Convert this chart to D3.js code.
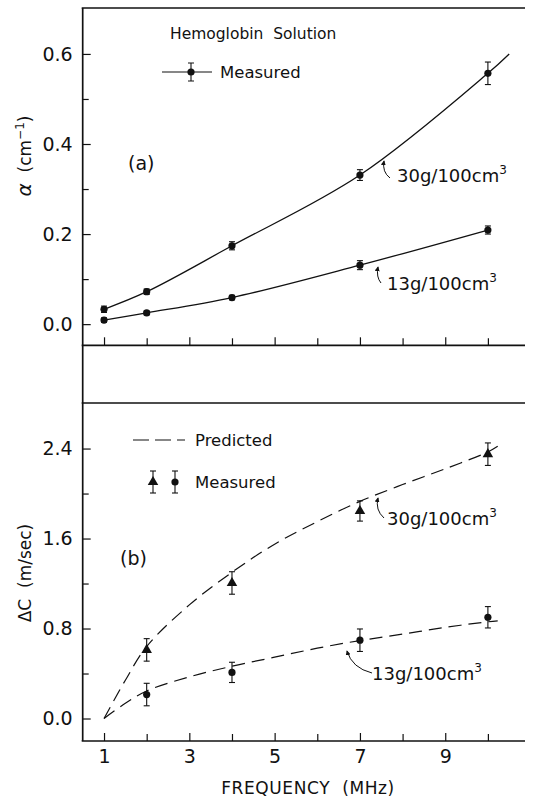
<!DOCTYPE html>
<html>
<head>
<meta charset="utf-8">
<script src="https://cdn.jsdelivr.net/npm/d3@7"></script>
<style>
  body { margin: 0; background: #fff; }
  text { font-family: "DejaVu Sans", sans-serif; fill: #111; white-space: pre; }
</style>
</head>
<body>
<div id="chart"></div>
<script>
// Hemoglobin solution: attenuation (a) and velocity change (b) vs frequency
const width = 549, height = 802;

// (a) attenuation, cm^-1
const freqA = [1, 2, 4, 7, 10];
const alpha30 = [0.033, 0.072, 0.174, 0.331, 0.557];
const alpha30Err = [0.007, 0.006, 0.009, 0.012, 0.025];
const alpha13 = [0.009, 0.025, 0.059, 0.131, 0.209];
const alpha13Err = [0.005, 0.004, 0.005, 0.010, 0.009];
// smooth curves drawn through the points
const curveFreq30 = [1, 2, 4, 7, 10, 10.5];
const curveAlpha30 = [0.033, 0.072, 0.174, 0.331, 0.557, 0.600];
const curveFreq13 = [1, 2, 4, 7, 10];
const curveAlpha13 = [0.009, 0.025, 0.059, 0.131, 0.209];

// (b) velocity change, m/sec
const freqB = [2, 4, 7, 10];
const dc30 = [0.61, 1.205, 1.845, 2.35];
const dc30Err = [0.10, 0.10, 0.09, 0.10];
const dc13 = [0.213, 0.41, 0.696, 0.90];
const dc13Err = [0.10, 0.09, 0.10, 0.095];
// predicted (dashed)
const predFreq = [1, 1.5, 2, 3, 4, 5, 6, 7, 8, 9, 10, 10.23];
const pred30 = [0, 0.34, 0.64, 1.01, 1.30, 1.55, 1.75, 1.93, 2.08, 2.22, 2.37, 2.42];
const pred13 = [0, 0.135, 0.245, 0.37, 0.465, 0.545, 0.625, 0.693, 0.75, 0.81, 0.86, 0.868];

// ticks
const xMajor = [1, 3, 5, 7, 9];
const xMinor = [2, 4, 6, 8, 10];
const yAMajor = [0, 0.2, 0.4, 0.6];
const yAMinor = [0.1, 0.3, 0.5];
const yBMajor = [0, 0.8, 1.6, 2.4];
const yBMinor = [0.4, 1.2, 2.0];

const left = 82.7, right = 525;
const topA = 8, bottomA = 345.3, topB = 403, bottomB = 741;

const svg = d3.select("#chart").append("svg")
  .attr("width", width).attr("height", height);

const x = d3.scaleLinear().domain([0.5, 10.87]).range([left, right]);
const yA = d3.scaleLinear().domain([-0.047, 0.702]).range([bottomA, topA]);
const yB = d3.scaleLinear().domain([-0.2, 2.805]).range([bottomB, topB]);

const ink = "#111";

// arrow head
svg.append("defs").append("marker").attr("id", "arr")
  .attr("viewBox", "0 0 6 6").attr("refX", 5).attr("refY", 3)
  .attr("markerWidth", 5).attr("markerHeight", 5).attr("orient", "auto")
  .append("path").attr("d", "M0,0 L6,3 L0,6 Z").attr("fill", ink);

// ---- axes ----
function leftAxis(scale, major, minor, fmt) {
  const gMaj = svg.append("g").attr("transform", `translate(${left},0)`)
    .call(d3.axisLeft(scale).tickValues(major).tickFormat(d3.format(fmt))
      .tickSize(-8).tickPadding(10).tickSizeOuter(0));
  const gMin = svg.append("g").attr("transform", `translate(${left},0)`)
    .call(d3.axisLeft(scale).tickValues(minor).tickFormat("").tickSize(-6).tickSizeOuter(0));
  [gMaj, gMin].forEach(g => {
    g.select(".domain").remove();
    g.selectAll("line").attr("stroke", ink).attr("stroke-width", 1.2);
    g.selectAll("text").attr("font-size", 19).attr("fill", ink);
  });
}
leftAxis(yA, yAMajor, yAMinor, ".1f");
leftAxis(yB, yBMajor, yBMinor, ".1f");

function bottomTicks(yPos, labels) {
  const gMaj = svg.append("g").attr("transform", `translate(0,${yPos})`)
    .call(d3.axisBottom(x).tickValues(xMajor).tickFormat(labels ? d3.format("d") : "")
      .tickSize(-8).tickPadding(9).tickSizeOuter(0));
  const gMin = svg.append("g").attr("transform", `translate(0,${yPos})`)
    .call(d3.axisBottom(x).tickValues(xMinor).tickFormat("").tickSize(-7).tickSizeOuter(0));
  [gMaj, gMin].forEach(g => {
    g.select(".domain").remove();
    g.selectAll("line").attr("stroke", ink).attr("stroke-width", 1.2);
    g.selectAll("text").attr("font-size", 19).attr("fill", ink);
  });
}
bottomTicks(bottomA, false);
bottomTicks(bottomB, true);

// frame lines
const frame = svg.append("g").attr("stroke", ink).attr("stroke-width", 1.7);
[topA, bottomA, topB, bottomB].forEach(yy =>
  frame.append("line").attr("x1", left - 1).attr("x2", right).attr("y1", yy).attr("y2", yy));
frame.append("line").attr("x1", left).attr("x2", left).attr("y1", topA).attr("y2", bottomB);

// axis titles
svg.append("text").attr("x", 308).attr("y", 794).attr("text-anchor", "middle")
  .attr("font-size", 17).attr("letter-spacing", 0.6).text("FREQUENCY  (MHz)");

const ttlA = svg.append("text").attr("transform", "translate(31,156) rotate(-90)")
  .attr("text-anchor", "middle").attr("font-size", 17);
ttlA.append("tspan").attr("font-style", "italic").attr("font-size", 20).text("α");
ttlA.append("tspan").text("  (cm");
ttlA.append("tspan").attr("dy", -7).attr("font-size", 12).text("−1");
ttlA.append("tspan").attr("dy", 7).text(")");

svg.append("text").attr("transform", "translate(31,573) rotate(-90)")
  .attr("text-anchor", "middle").attr("font-size", 17).text("ΔC  (m/sec)");

// ---- panel (a) ----
const line = d3.line().curve(d3.curveCatmullRom.alpha(0.5));
svg.append("path")
  .attr("d", line(curveFreq30.map((f, i) => [x(f), yA(curveAlpha30[i])])))
  .attr("fill", "none").attr("stroke", ink).attr("stroke-width", 1.3);
svg.append("path")
  .attr("d", line(curveFreq13.map((f, i) => [x(f), yA(curveAlpha13[i])])))
  .attr("fill", "none").attr("stroke", ink).attr("stroke-width", 1.3);

function errBars(freqs, vals, errs, scale) {
  const g = svg.append("g").attr("stroke", ink).attr("stroke-width", 1.1);
  freqs.forEach((f, i) => {
    const cx = x(f), y1 = scale(vals[i] - errs[i]), y2 = scale(vals[i] + errs[i]);
    g.append("line").attr("x1", cx).attr("x2", cx).attr("y1", y1).attr("y2", y2);
    g.append("line").attr("x1", cx - 3).attr("x2", cx + 3).attr("y1", y1).attr("y2", y1);
    g.append("line").attr("x1", cx - 3).attr("x2", cx + 3).attr("y1", y2).attr("y2", y2);
  });
}
function dots(freqs, vals, scale) {
  svg.append("g").selectAll("circle").data(freqs).join("circle")
    .attr("cx", d => x(d)).attr("cy", (d, i) => scale(vals[i])).attr("r", 3.6).attr("fill", ink);
}
function tris(freqs, vals, scale) {
  svg.append("g").selectAll("path").data(freqs).join("path")
    .attr("d", d3.symbol(d3.symbolTriangle, 48))
    .attr("transform", (d, i) => `translate(${x(d)},${scale(vals[i])})`).attr("fill", ink);
}

errBars(freqA, alpha30, alpha30Err, yA);
errBars(freqA, alpha13, alpha13Err, yA);
dots(freqA, alpha30, yA);
dots(freqA, alpha13, yA);

svg.append("text").attr("x", 170).attr("y", 39).attr("font-size", 15.5)
  .text("Hemoglobin  Solution");

// legend (a)
svg.append("line").attr("x1", 162).attr("x2", 212).attr("y1", 72).attr("y2", 72)
  .attr("stroke", ink).attr("stroke-width", 1.1);
svg.append("line").attr("x1", 191).attr("x2", 191).attr("y1", 63).attr("y2", 81)
  .attr("stroke", ink).attr("stroke-width", 1.1);
svg.append("line").attr("x1", 188).attr("x2", 194).attr("y1", 63).attr("y2", 63).attr("stroke", ink);
svg.append("line").attr("x1", 188).attr("x2", 194).attr("y1", 81).attr("y2", 81).attr("stroke", ink);
svg.append("circle").attr("cx", 191).attr("cy", 72).attr("r", 3.6).attr("fill", ink);
svg.append("text").attr("x", 220).attr("y", 78).attr("font-size", 16.5).text("Measured");

svg.append("text").attr("x", 128).attr("y", 170).attr("font-size", 19).text("(a)");

function concLabel(x0, y0, txt) {
  const t = svg.append("text").attr("x", x0).attr("y", y0).attr("font-size", 18);
  t.append("tspan").text(txt);
  t.append("tspan").attr("dy", -8).attr("font-size", 12).text("3");
}
function arrow(tail, ctrl, tip) {
  svg.append("path")
    .attr("d", `M${tail[0]},${tail[1]} Q${ctrl[0]},${ctrl[1]} ${tip[0]},${tip[1]}`)
    .attr("fill", "none").attr("stroke", ink).attr("stroke-width", 1)
    .attr("marker-end", "url(#arr)");
}

concLabel(397, 182, "30g/100cm");
arrow([390, 178], [382, 172], [384, 161]);
concLabel(387, 290, "13g/100cm");
arrow([381, 283], [376, 277], [378, 267]);

// ---- panel (b) ----
svg.append("path")
  .attr("d", line(predFreq.map((f, i) => [x(f), yB(pred30[i])])))
  .attr("fill", "none").attr("stroke", ink).attr("stroke-width", 1.2)
  .attr("stroke-dasharray", "13,7");
svg.append("path")
  .attr("d", line(predFreq.map((f, i) => [x(f), yB(pred13[i])])))
  .attr("fill", "none").attr("stroke", ink).attr("stroke-width", 1.2)
  .attr("stroke-dasharray", "13,7");

errBars(freqB, dc30, dc30Err, yB);
errBars(freqB, dc13, dc13Err, yB);
tris(freqB, dc30, yB);
dots(freqB, dc13, yB);

// legend (b)
svg.append("line").attr("x1", 133).attr("x2", 185).attr("y1", 440).attr("y2", 440)
  .attr("stroke", ink).attr("stroke-width", 1.2).attr("stroke-dasharray", "16,6");
svg.append("text").attr("x", 195).attr("y", 446).attr("font-size", 16.5).text("Predicted");

[[153, "tri"], [175, "dot"]].forEach(([cx, kind]) => {
  const g = svg.append("g").attr("stroke", ink).attr("stroke-width", 1.1);
  g.append("line").attr("x1", cx).attr("x2", cx).attr("y1", 471).attr("y2", 493);
  g.append("line").attr("x1", cx - 3).attr("x2", cx + 3).attr("y1", 471).attr("y2", 471);
  g.append("line").attr("x1", cx - 3).attr("x2", cx + 3).attr("y1", 493).attr("y2", 493);
  if (kind === "tri") {
    svg.append("path").attr("d", d3.symbol(d3.symbolTriangle, 48))
      .attr("transform", `translate(${cx},482)`).attr("fill", ink);
  } else {
    svg.append("circle").attr("cx", cx).attr("cy", 482).attr("r", 3.6).attr("fill", ink);
  }
});
svg.append("text").attr("x", 195).attr("y", 488).attr("font-size", 16.5).text("Measured");

svg.append("text").attr("x", 120).attr("y", 565).attr("font-size", 19).text("(b)");

concLabel(387, 525, "30g/100cm");
arrow([384, 518], [375, 510], [378, 498]);
concLabel(372, 680, "13g/100cm");
arrow([372, 673], [352, 668], [347, 651]);
</script>
</body>
</html>
